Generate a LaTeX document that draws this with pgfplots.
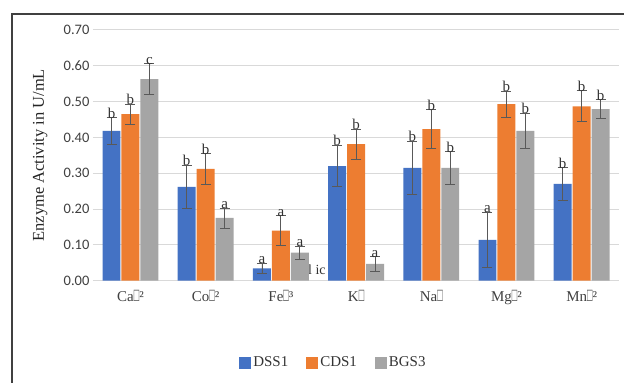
\documentclass[border=0pt]{standalone}
\usepackage{fontspec}
\setmainfont{Liberation Serif}
\newfontfamily\calibri{Carlito}
\usepackage{graphicx}
\usepackage{pgfplots}
\usepackage{pgfplotstable}
\pgfplotsset{compat=1.18}
\definecolor{cBlue}{HTML}{4472C4}
\definecolor{cOrange}{HTML}{ED7D31}
\definecolor{cGray}{HTML}{A5A5A5}
\definecolor{gridc}{HTML}{D9D9D9}
\definecolor{txt}{HTML}{404040}

\pgfplotstableread{
x dss dsse dssl cds cdse cdsl bgs bgse bgsl
0 0.418 0.038 b 0.465 0.028 b 0.563 0.043 c
1 0.262 0.060 b 0.312 0.042 b 0.175 0.028 a
2 0.034 0.015 a 0.140 0.042 a 0.078 0.018 a
3 0.320 0.058 b 0.381 0.042 b 0.047 0.020 a
4 0.315 0.075 b 0.423 0.055 b 0.315 0.045 b
5 0.114 0.078 a 0.493 0.036 b 0.418 0.050 b
6 0.270 0.045 b 0.487 0.043 b 0.479 0.026 b
}\data

\newcommand\tofu{\scalebox{0.6}[1.25]{□}}

\begin{document}
\begin{tikzpicture}[x=1pt,y=1pt]
\path[fill=white] (0,0) rectangle (625,383);
\draw[line width=1.5pt, black!75] (12,0) -- (12,369) -- (625,369);
\begin{axis}[
  at={(93pt,102pt)}, anchor=south west, scale only axis,
  width=527pt, height=251pt,
  xmin=-0.5, xmax=6.5, ymin=0, ymax=0.7,
  ybar, bar width=18pt,
  xtick={0,1,2,3,4,5,6},
  xticklabels={{Ca\tofu²},{Co\tofu²},{Fe\tofu³},{K\tofu},{Na\tofu},{Mg\tofu²},{Mn\tofu²}},
  xticklabel style={font=\fontsize{15}{17}\selectfont, text=txt, yshift=-6pt},
  ytick={0,0.1,0.2,0.3,0.4,0.5,0.6,0.7},
  /pgf/number format/assume math mode=true,
  yticklabel style={/pgf/number format/.cd, fixed, fixed zerofill, precision=2, /tikz/.cd, font=\calibri\fontsize{14.5}{16}\selectfont, text=txt},
  axis line style={draw=none}, major tick length=0pt, tick style={draw=none},
  ymajorgrids, grid style={gridc, line width=1pt},
  ylabel={Enzyme Activity in U/mL},
  ylabel style={at={(axis description cs:-0.1,0.5)}, anchor=center, font=\fontsize{16.5}{18}\selectfont, text=black!85},
  legend columns=3,
  legend style={at={(0.457,-0.327)}, anchor=center, draw=none, fill=none,
    font=\fontsize{15}{17}\selectfont, text=black!80,
    /tikz/every even column/.append style={column sep=16pt}},
  legend image code/.code={\path[#1,draw=none] (0pt,-6pt) rectangle (12pt,6pt);},
  clip=false,
  error bars/error bar style={black!65, line width=0.8pt},
  error bars/error mark options={rotate=90, mark size=5pt, black!65, line width=0.8pt},
]
\node[anchor=west, inner sep=0pt, font=\fontsize{14}{16}\selectfont, text=black!80] at (axis cs:2.36,0.03) {l ic};

\addplot[fill=cBlue, draw=none, bar shift=-19pt,
  error bars/.cd, y dir=both, y explicit]
  table[x=x, y=dss, y error=dsse]{\data};
\addlegendentry{DSS1}
\addplot[fill=cOrange, draw=none, bar shift=0pt,
  error bars/.cd, y dir=both, y explicit]
  table[x=x, y=cds, y error=cdse]{\data};
\addlegendentry{CDS1}
\addplot[fill=cGray, draw=none, bar shift=19pt,
  error bars/.cd, y dir=both, y explicit]
  table[x=x, y=bgs, y error=bgse]{\data};
\addlegendentry{BGS3}

\addplot[draw=none, fill=none, bar shift=-19pt, forget plot,
  nodes near coords, point meta=explicit symbolic,
  nodes near coords style={anchor=south, inner sep=0pt, yshift=-1pt, font=\fontsize{15}{17}\selectfont, text=black!80}]
  table[x=x, y expr=\thisrow{dss}+\thisrow{dsse}, meta=dssl]{\data};
\addplot[draw=none, fill=none, bar shift=0pt, forget plot,
  nodes near coords, point meta=explicit symbolic,
  nodes near coords style={anchor=south, inner sep=0pt, yshift=-1pt, font=\fontsize{15}{17}\selectfont, text=black!80}]
  table[x=x, y expr=\thisrow{cds}+\thisrow{cdse}, meta=cdsl]{\data};
\addplot[draw=none, fill=none, bar shift=19pt, forget plot,
  nodes near coords, point meta=explicit symbolic,
  nodes near coords style={anchor=south, inner sep=0pt, yshift=-1pt, font=\fontsize{15}{17}\selectfont, text=black!80}]
  table[x=x, y expr=\thisrow{bgs}+\thisrow{bgse}, meta=bgsl]{\data};
\end{axis}
\end{tikzpicture}
\end{document}
